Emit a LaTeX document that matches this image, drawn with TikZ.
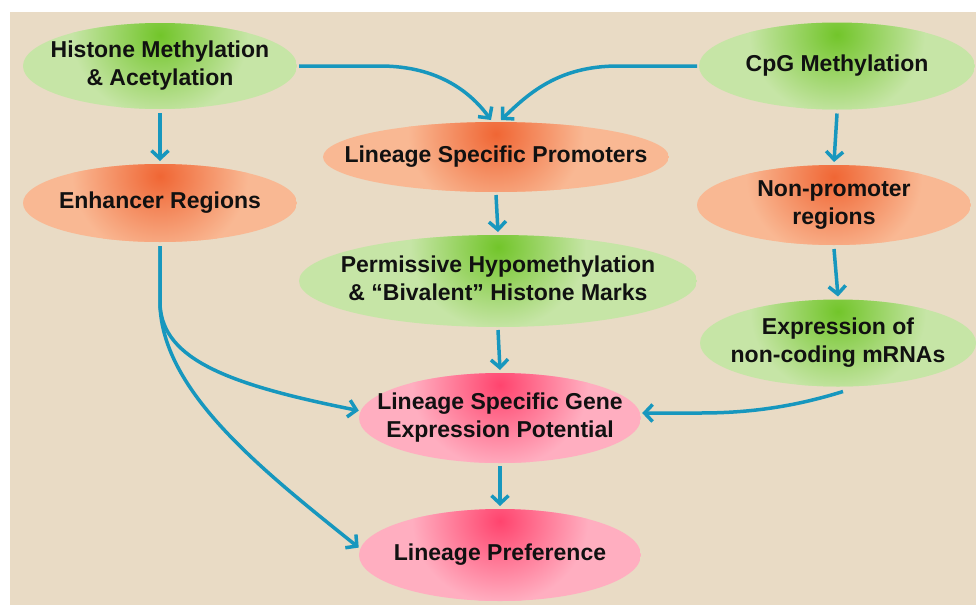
\documentclass[tikz,border=0pt]{standalone}
\usepackage{fontspec}
\setmainfont{Liberation Sans}
\usetikzlibrary{arrows.meta,shapes.geometric}
\definecolor{bg}{HTML}{E9DBC5}
\definecolor{gdark}{HTML}{72C52A}
\definecolor{glight}{HTML}{C6E5A6}
\definecolor{odark}{HTML}{F06634}
\definecolor{olight}{HTML}{F9B893}
\definecolor{pdark}{HTML}{FF446E}
\definecolor{plight}{HTML}{FFAEC0}
\definecolor{arrc}{HTML}{1797BE}
\definecolor{txt}{HTML}{111111}
\newcommand\lbl[1]{\makebox[0pt]{\begin{tabular}{@{}c@{}}#1\end{tabular}}}
\tikzset{
  blob/.style n args={4}{ellipse, draw=none, inner sep=0pt, outer sep=2pt,
    minimum width=#3, minimum height=#4, text=txt,
    font=\bfseries\fontsize{23}{28}\selectfont,
    path picture={
      \fill[#2] (path picture bounding box.south west) rectangle (path picture bounding box.north east);
      \shade[inner color=#1, outer color=#2] ([yshift=-12pt]path picture bounding box.north) ellipse (88pt and 82pt);
    }},
  gblob/.style 2 args={blob={gdark}{glight}{#1}{#2}},
  oblob/.style 2 args={blob={odark}{olight}{#1}{#2}},
  pblob/.style 2 args={blob={pdark}{plight}{#1}{#2}},
  arr/.style={draw=arrc, line width=3.5pt, -{Straight Barb[length=8pt,width=17pt]}},
}
\begin{document}
\begin{tikzpicture}[x=1pt,y=-1pt]
\useasboundingbox (0,0) rectangle (976,605);
\fill[white] (0,0) rectangle (976,605);
\fill[bg] (10,12) rectangle (976,605);

\node[gblob={274pt}{86pt}] (hist) at (160,66) {\lbl{Histone Methylation\\\& Acetylation}};
\node[oblob={274pt}{78pt}] (enh) at (160,203) {\lbl{Enhancer Regions}};
\node[gblob={276pt}{87pt}] (cpg) at (837,66) {\lbl{CpG Methylation}};
\node[oblob={274pt}{80pt}] (nonp) at (834,205) {\lbl{Non-promoter\\regions}};
\node[oblob={346pt}{70pt}] (prom) at (496,157) {\lbl{Lineage Specific Promoters}};
\node[gblob={398pt}{92pt}] (perm) at (498,281) {\lbl{Permissive Hypomethylation\\\& “Bivalent” Histone Marks}};
\node[gblob={276pt}{87pt}] (expr) at (838,343) {\lbl{Expression of\\non-coding mRNAs}};
\node[pblob={282pt}{90pt}] (lsge) at (500,418) {\lbl{Lineage Specific Gene\\Expression Potential}};
\node[pblob={282pt}{92pt}] (pref) at (500,555) {\lbl{Lineage Preference}};

\coordinate (hk) at (380,66);
\coordinate (ck) at (618,66);
\coordinate (ek) at (160,305);
\coordinate (xk) at (700,413);

\draw[arr] ([yshift=-2pt]hist.south) -- ([yshift=1pt]enh.north);
\draw[arr] ([yshift=-2pt]cpg.south) -- ([yshift=1pt]nonp.north);
\draw[arr] ([yshift=-1pt]prom.south) -- ([yshift=1pt]perm.north);
\draw[arr] ([yshift=-2pt]nonp.south) -- ([yshift=1pt]expr.north);
\draw[arr] ([yshift=-1pt]perm.south) -- ([yshift=1pt]lsge.north);
\draw[arr] ([yshift=-1pt]lsge.south) -- ([yshift=1pt]pref.north);

\draw[arr] (hist.east) -- (hk) .. controls (440,66) and (472,94) .. ([xshift=-5pt]prom.north);
\draw[arr] (cpg.west) -- (ck) .. controls (558,66) and (528,94) .. ([xshift=5pt]prom.north);

\draw[arr] ([yshift=-2pt]enh.south) -- (ek) .. controls (163,360) and (230,385) .. (lsge.177);
\draw[arr] ([yshift=-2pt]enh.south) -- (ek) .. controls (163,392) and (262,470) .. (pref.177);

\draw[arr] ([xshift=5pt,yshift=-3pt]expr.south) .. controls (790,408) and (745,413) .. (xk) -- (lsge.2);
\end{tikzpicture}
\end{document}
